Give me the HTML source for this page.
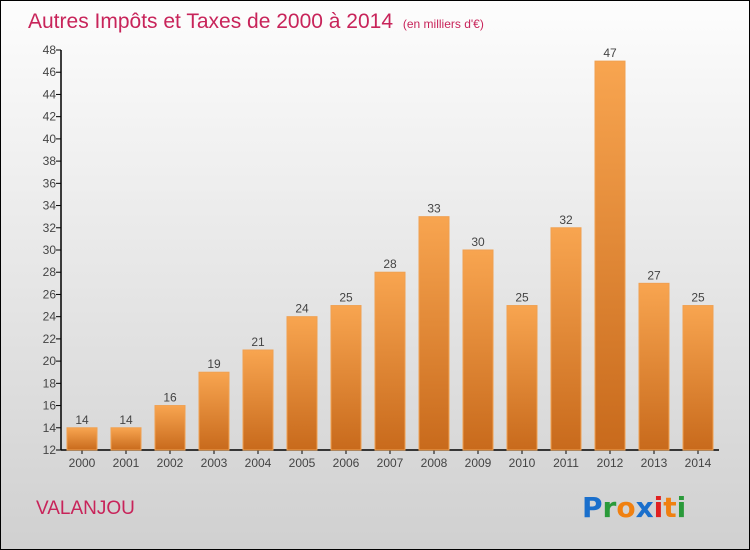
<!DOCTYPE html>
<html><head><meta charset="utf-8"><style>
body{margin:0}
#wrap{width:748px;height:548px;border:1px solid #000;background:linear-gradient(#fdfdfd,#d0d0d0);position:relative;font-family:"Liberation Sans",sans-serif;overflow:hidden}
</style></head><body>
<div id="wrap">
<svg id="svg" width="748" height="548" xmlns="http://www.w3.org/2000/svg">
<defs><linearGradient id="bg" x1="0" y1="0" x2="0" y2="1"><stop offset="0" stop-color="#f8a550"/><stop offset="1" stop-color="#c86a1c"/></linearGradient></defs>
<text x="27" y="27" font-size="21" fill="#c8245a">Autres Impôts et Taxes de 2000 à 2014 <tspan font-size="12" dx="4">(en milliers d'€)</tspan></text>
<text x="35" y="513" font-size="19" fill="#c8245a">VALANJOU</text>
<g font-size="28" font-weight="bold" font-family="DejaVu Sans, sans-serif">
<text x="581" y="516"><tspan fill="#1a6fcc">P</tspan><tspan fill="#2a9a3a">r</tspan><tspan fill="#f08010">o</tspan><tspan fill="#1a6fcc">x</tspan><tspan fill="#e02020">i</tspan><tspan fill="#f08010">t</tspan><tspan fill="#2a9a3a">i</tspan></text></g>
<g id="axes"></g><g id="bars"></g>
</svg></div>
<script>
const years=["2000","2001","2002","2003","2004","2005","2006","2007","2008","2009","2010","2011","2012","2013","2014"];
const values=[14,14,16,19,21,24,25,28,33,30,25,32,47,27,25];
const yTicks=[12,14,16,18,20,22,24,26,28,30,32,34,36,38,40,42,44,46,48];
const ns="http://www.w3.org/2000/svg";
const y=v=>449-(v-12)*400/36;
const x=i=>81+i*44;
function mk(t,a,p){const e=document.createElementNS(ns,t);for(const k in a)e.setAttribute(k,a[k]);p.appendChild(e);return e;}
const ax=document.getElementById('axes'),bg=document.getElementById('bars');
let l=mk('line',{x1:60,y1:y(48),x2:60,y2:y(12),stroke:'#000','stroke-width':1.5},ax);


l=mk('line',{x1:60,y1:y(12),x2:718,y2:y(12),stroke:'#000','stroke-width':1.5},ax);


yTicks.forEach(v=>{
 mk('line',{x1:55,x2:60,y1:y(v),y2:y(v),stroke:'#000'},ax);
 const t=mk('text',{x:55,y:y(v)+4,'font-size':12,fill:'#444','text-anchor':'end'},ax);t.textContent=v;
 
 
});
years.forEach((yr,i)=>{
 mk('line',{x1:x(i),x2:x(i),y1:y(12),y2:y(12)+4,stroke:'#000'},ax);
 const t=mk('text',{x:x(i),y:466,'font-size':12,fill:'#444','text-anchor':'middle'},ax);t.textContent=yr;
 
 
 const r=mk('rect',{x:x(i)-15,y:y(values[i]),width:30,height:y(12)-y(values[i]),fill:'url(#bg)',stroke:'#f0a050','stroke-width':1},bg);
 
 
 const vt=mk('text',{x:x(i),y:y(values[i])-4,'font-size':12,fill:'#444','text-anchor':'middle'},bg);vt.textContent=values[i];
 
 
});
</script></body></html>
